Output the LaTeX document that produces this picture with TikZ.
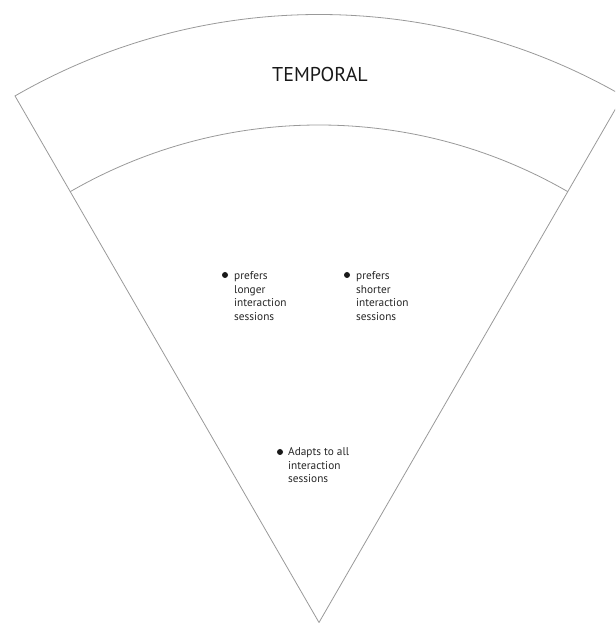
\documentclass[tikz,border=0pt]{standalone}
\usepackage{fontspec}
\setmainfont{PT Sans}
\begin{document}
\begin{tikzpicture}[x=1pt,y=1pt,
  edge/.style={draw=black!40, line width=0.8pt},
  lbl/.style={font=\fontsize{11.3}{13.4}\selectfont, align=left, anchor=north west, inner sep=0pt, text=black!85},
  title/.style={font=\fontsize{20}{24}\selectfont, inner sep=0pt, text=black!90},
  dot/.style={circle, fill=black!90, inner sep=0pt, minimum size=6pt}]
\useasboundingbox (0,0) rectangle (615,623);
\clip (0,0) rectangle (615,623);
\coordinate (apex) at (319,0.5);
\path (apex) ++(120:608) coordinate (oL);
\path (apex) ++(120:497.5) coordinate (iL);
\draw[edge] (apex) -- (oL) arc[start angle=120, end angle=60, radius=608] -- cycle;
\draw[edge] (iL) arc[start angle=120, end angle=60, radius=497.5];
\node[title] (t) at (320,548) {TEMPORAL};
\node[dot] (d1) at (225,348) {};
\node[lbl] (l1) at (234,351.3) {prefers\\longer\\interaction\\sessions};
\node[dot] (d2) at (347,348) {};
\node[lbl] (l2) at (356,351.3) {prefers\\shorter\\interaction\\sessions};
\node[dot] (d3) at (280,171) {};
\node[lbl] (l3) at (288,175.3) {Adapts to all\\interaction\\sessions};
\end{tikzpicture}
\end{document}
